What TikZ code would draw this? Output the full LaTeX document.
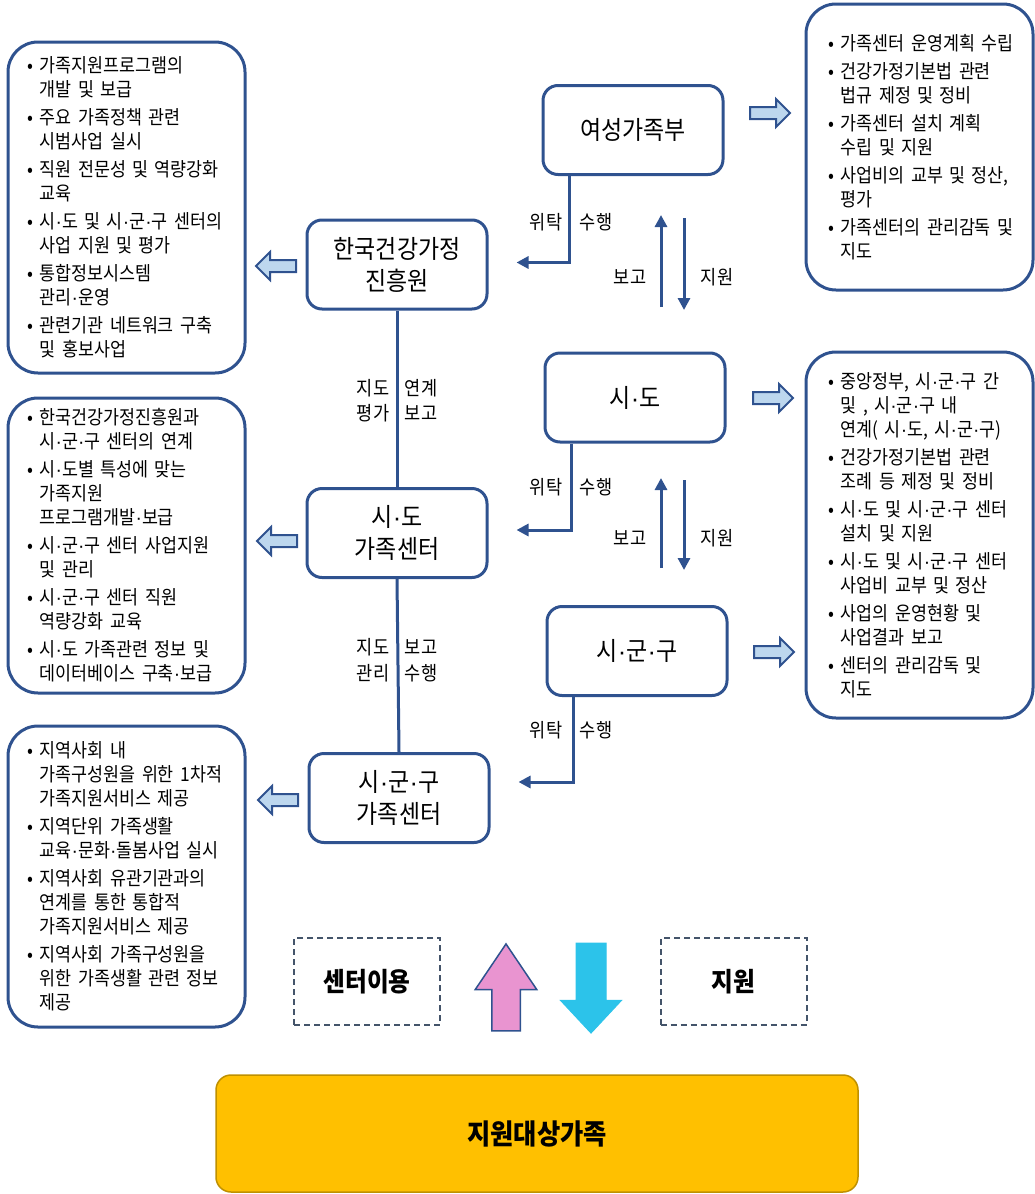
\documentclass[tikz,border=0pt]{standalone}
\usepackage{fontspec}
\usepackage{newunicodechar}
\setmainfont{Noto Sans CJK KR}[FakeStretch=0.9]
\newfontfamily\dotfont{Liberation Sans}
\newunicodechar{·}{{\dotfont\symbol{"00B7}}}
\usetikzlibrary{arrows.meta,shapes.arrows,positioning}
\definecolor{navy}{HTML}{2F528F}
\definecolor{lightblue}{HTML}{BDD7EE}
\definecolor{pinkup}{HTML}{E994D0}
\definecolor{cyandown}{HTML}{2CC3EA}
\definecolor{gold}{HTML}{FFC000}
\definecolor{darkgold}{HTML}{BF9000}
\definecolor{dashgray}{HTML}{44546A}

\newcommand{\bitem}[1]{\hangindent=12pt\hangafter=1\makebox[12pt][l]{•}{\def\\{\hfil\break}#1}\par}

\tikzset{
	orgbox/.style={draw=navy,line width=3pt,rounded corners=15pt,minimum width=180pt,minimum height=89pt,align=center,font=\fontsize{25.5}{32}\selectfont},
	sidebox/.style={draw=navy,line width=3pt,rounded corners=30pt},
	sidetext/.style={text width=210pt,align=left,inner sep=0pt,font=\fontsize{19.3}{24}\selectfont,execute at begin node={\setlength{\parskip}{4pt}}},
	conn/.style={navy,line width=3pt},
	tip/.style={-{Triangle[length=12pt,width=12pt]}},
	lbl/.style={font=\fontsize{19.5}{20}\selectfont,inner sep=0pt},
	bluearrow/.style={single arrow,draw=navy,line width=2pt,fill=lightblue,inner sep=5pt,minimum height=40pt,single arrow head extend=8pt},
	dashbox/.style={draw=dashgray,line width=2pt,dash pattern=on 6pt off 4pt,minimum width=146pt,minimum height=87pt,font=\bfseries\fontsize{26.3}{28}\selectfont}
}

\begin{document}
\begin{tikzpicture}[x=1pt,y=-1pt]
		\useasboundingbox (0,0) rectangle (1035,1194);
		% organisations
		\node[orgbox] (yeo) at (633,130) {여성가족부};
		\node[orgbox] (jin) at (397,264.5) {한국건강가정\\진흥원};
		\node[orgbox] (sido) at (635,397.5) {시·도};
		\node[orgbox] (sdc) at (397,533) {시·도\\가족센터};
		\node[orgbox] (sgg) at (637,651) {시·군·구};
		\node[orgbox] (sggc) at (399,798) {시·군·구\\가족센터};
		% side boxes
		\node[sidebox,minimum width=237pt,minimum height=331pt] (jinbox) at (126.5,207.5) {};
		\node[sidetext,anchor=west] (jintxt) at ([xshift=21pt]jinbox.west) {%
			\bitem{가족지원프로그램의\\개발 및 보급}
			\bitem{주요 가족정책 관련\\시범사업 실시}
			\bitem{직원 전문성 및 역량강화\\교육}
			\bitem{시·도 및 시·군·구 센터의\\사업 지원 및 평가}
			\bitem{통합정보시스템\\관리·운영}
			\bitem{관련기관 네트워크 구축\\및 홍보사업}};
		\node[sidebox,minimum width=237pt,minimum height=295pt] (sdcbox) at (126.5,545.5) {};
		\node[sidetext,anchor=west] (sdctxt) at ([xshift=21pt]sdcbox.west) {%
			\bitem{한국건강가정진흥원과\\시·군·구 센터의 연계}
			\bitem{시·도별 특성에 맞는\\가족지원\\프로그램개발·보급}
			\bitem{시·군·구 센터 사업지원\\및 관리}
			\bitem{시·군·구 센터 직원\\역량강화 교육}
			\bitem{시·도 가족관련 정보 및\\데이터베이스 구축·보급}};
		\node[sidebox,minimum width=237pt,minimum height=301pt] (sggcbox) at (126.5,876.5) {};
		\node[sidetext,anchor=west] (sggctxt) at ([xshift=21pt]sggcbox.west) {%
			\bitem{지역사회 내\\가족구성원을 위한 1차적\\가족지원서비스 제공}
			\bitem{지역단위 가족생활\\교육·문화·돌봄사업 실시}
			\bitem{지역사회 유관기관과의\\연계를 통한 통합적\\가족지원서비스 제공}
			\bitem{지역사회 가족구성원을\\위한 가족생활 관련 정보\\제공}};
		\node[sidebox,minimum width=227pt,minimum height=286pt] (yeobox) at (919.5,147) {};
		\node[sidetext,anchor=west] (yeotxt) at ([xshift=24pt]yeobox.west) {%
			\bitem{가족센터 운영계획 수립}
			\bitem{건강가정기본법 관련\\법규 제정 및 정비}
			\bitem{가족센터 설치 계획\\수립 및 지원}
			\bitem{사업비의 교부 및 정산,\\평가}
			\bitem{가족센터의 관리감독 및\\지도}};
		\node[sidebox,minimum width=227pt,minimum height=366pt] (sidobox) at (919.5,535) {};
		\node[sidetext,anchor=west] (sidotxt) at ([xshift=24pt]sidobox.west) {%
			\bitem{중앙정부, 시·군·구 간\\및 , 시·군·구 내\\연계( 시·도, 시·군·구)}
			\bitem{건강가정기본법 관련\\조례 등 제정 및 정비}
			\bitem{시·도 및 시·군·구 센터\\설치 및 지원}
			\bitem{시·도 및 시·군·구 센터\\사업비 교부 및 정산}
			\bitem{사업의 운영현황 및\\사업결과 보고}
			\bitem{센터의 관리감독 및\\지도}};
		% block arrows to the side boxes
		\foreach \x/\y [count=\i] in {767/113,770/398,771/652}
		\node[bluearrow] (ra\i) at (\x,\y) {};
		\foreach \x/\y [count=\i] in {279/266,280/541,281/800}
		\node[bluearrow,shape border rotate=180] (la\i) at (\x,\y) {};
		% entrust / perform
		\draw[conn,tip] ([xshift=28pt]yeo.south west) |- ([xshift=28pt,yshift=2pt]jin.east);
		\draw[conn,tip] ([xshift=28pt]sido.south west) |- ([xshift=28pt,yshift=3pt]sdc.east);
		\draw[conn,tip] ([xshift=28pt]sgg.south west) |- ([xshift=28pt,yshift=16pt]sggc.east);
		\foreach \y in {222,487,730} {
			\node[lbl] (wt\y) at (546,\y) {위탁};
			\node[lbl] (sh\y) at (596,\y) {수행};
		}
		% report / support
		\coordinate (up1s) at (661,307);
		\coordinate (up1e) at (661,215);
		\coordinate (dn1s) at (684,218);
		\coordinate (dn1e) at (684,310);
		\coordinate (up2s) at (661,568);
		\coordinate (up2e) at (661,478);
		\coordinate (dn2s) at (684,480);
		\coordinate (dn2e) at (684,570);
		\draw[conn,tip] (up1s) -- (up1e);
		\draw[conn,tip] (dn1s) -- (dn1e);
		\draw[conn,tip] (up2s) -- (up2e);
		\draw[conn,tip] (dn2s) -- (dn2e);
		\foreach \y in {277,538} {
			\node[lbl] (bg\y) at (630,\y) {보고};
			\node[lbl] (jw\y) at (717,\y) {지원};
		}
		% centre to centre
		\draw[conn] (jin.south) -- (sdc.north);
		\draw[conn] (sdc.south) -- (sggc.north);
		\node[lbl] (jd1) at (373,388) {지도};
		\node[lbl] (pg1) at (373,413) {평가};
		\node[lbl] (yg1) at (421,388) {연계};
		\node[lbl] (bg1) at (421,413) {보고};
		\node[lbl] (jd2) at (373,647) {지도};
		\node[lbl] (gr2) at (373,673) {관리};
		\node[lbl] (bg2) at (421,647) {보고};
		\node[lbl] (sh2) at (421,673) {수행};
		% families
		\node[dashbox] (use) at (367,981.5) {센터이용};
		\node[dashbox] (help) at (733.5,981.5) {지원};
		\node[single arrow,draw=navy,line width=1.5pt,fill=pinkup,inner sep=13.5pt,minimum height=87pt,single arrow head extend=16.5pt,single arrow tip angle=68,shape border rotate=90] (usearr) at (506,998) {};
		\node[single arrow,draw=cyandown,line width=1pt,fill=cyandown,inner sep=14.5pt,minimum height=90pt,single arrow head extend=15.5pt,single arrow tip angle=86,shape border rotate=270] (helparr) at (591,980) {};
		\node[draw=darkgold,line width=1.5pt,fill=gold,rounded corners=15pt,minimum width=642pt,minimum height=117pt,font=\bfseries\fontsize{28.1}{30}\selectfont] (target) at (537,1133.5) {지원대상가족};
	    \end{tikzpicture}
\end{document}
